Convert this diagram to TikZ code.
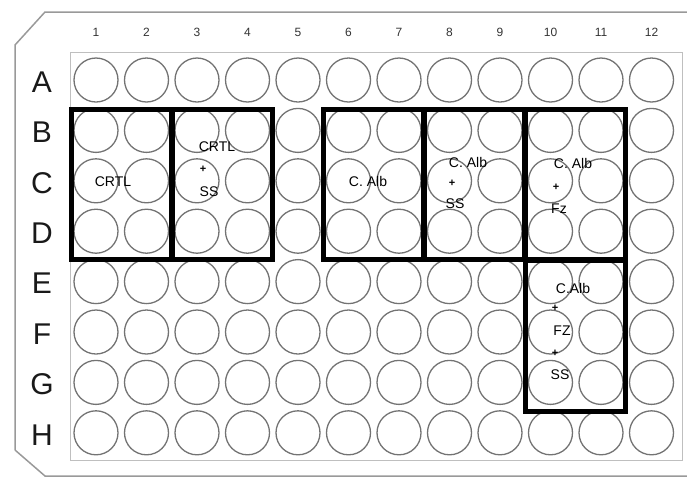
\documentclass[tikz,border=0pt]{standalone}
\usepackage{fontspec}
\setmainfont{Liberation Sans}
\usetikzlibrary{positioning, fit}

\begin{document}
\begin{tikzpicture}[x=1pt, y=-1pt, well/.style={draw=black!55, line width=1.3pt, circle, minimum size=44pt, inner sep=0pt}, rowlbl/.style={font=\fontsize{30}{30}\selectfont, text=black!90, inner sep=0pt}, collbl/.style={font=\fontsize{12}{12}\selectfont, text=black!80, inner sep=0pt}, group/.style={draw, line width=5pt, inner xsep=2pt, inner ysep=2pt, yshift=-4pt}, lbl/.style={font=\fontsize{14}{14}\selectfont, text=black, inner sep=1pt}, plus/.style={font=\fontsize{11}{11}\selectfont\bfseries, text=black, inner sep=0pt}]
\useasboundingbox (0,0) rectangle (687,483);
% plate rim
\draw[black!40, line width=1.5pt] (15,450) -- (15,45) -- (45,12) -- (687,12);
\draw[black!40, line width=1.5pt] (15,450) -- (45,476) -- (687,476);
\draw[black!25, line width=1pt] (70,52) rectangle (682,460);
% column numbers
\foreach \c in {1,...,12}
  \node[collbl] (col-\c) at (96+50.5*\c-50.5, 32) {\c};
% rows of wells
\foreach \r [count=\i from 0] in {A,B,C,D,E,F,G,H} {
  \node[rowlbl] (row-\r) at (42, 82+50.4*\i) {\r};
  \foreach \c in {1,...,12}
    \node[well] (w-\r-\c) at (96+50.5*\c-50.5, 80+50.4*\i) {};
}
% treatment groups
\node[group, fit=(w-B-1)(w-D-2)] (grp-ctl) {};
\node[group, fit=(w-B-3)(w-D-4)] (grp-ctl-ss) {};
\node[group, fit=(w-B-6)(w-D-7)] (grp-alb) {};
\node[group, fit=(w-B-8)(w-D-9)] (grp-alb-ss) {};
\node[group, fit=(w-B-10)(w-D-11)] (grp-alb-fz) {};
\node[group, fit=(w-E-10)(w-G-11)] (grp-alb-fz-ss) {};
% labels
\node[lbl] (t-ctl) at (113,182) {CRTL};
\node[lbl] (t-ctl2) at (217,147) {CRTL};
\node[plus] (p-ctl2) at (203,169) {+};
\node[lbl] (t-ss1) at (209,192) {SS};
\node[lbl] (t-alb) at (368,181) {C. Alb};
\node[lbl] (t-alb2) at (468,162) {C. Alb};
\node[plus] (p-alb2) at (452,183) {+};
\node[lbl] (t-ss2) at (455,204) {SS};
\node[lbl] (t-alb3) at (573,163) {C. Alb};
\node[plus] (p-alb3) at (556,187) {+};
\node[lbl] (t-fz1) at (559,209) {Fz};
\node[lbl] (t-alb4) at (573,288) {C.Alb};
\node[plus] (p-alb4) at (555,308) {+};
\node[lbl] (t-fz2) at (562,331) {FZ};
\node[plus] (p-fz2) at (555,353) {+};
\node[lbl] (t-ss3) at (560,375) {SS};
\end{tikzpicture}
\end{document}
